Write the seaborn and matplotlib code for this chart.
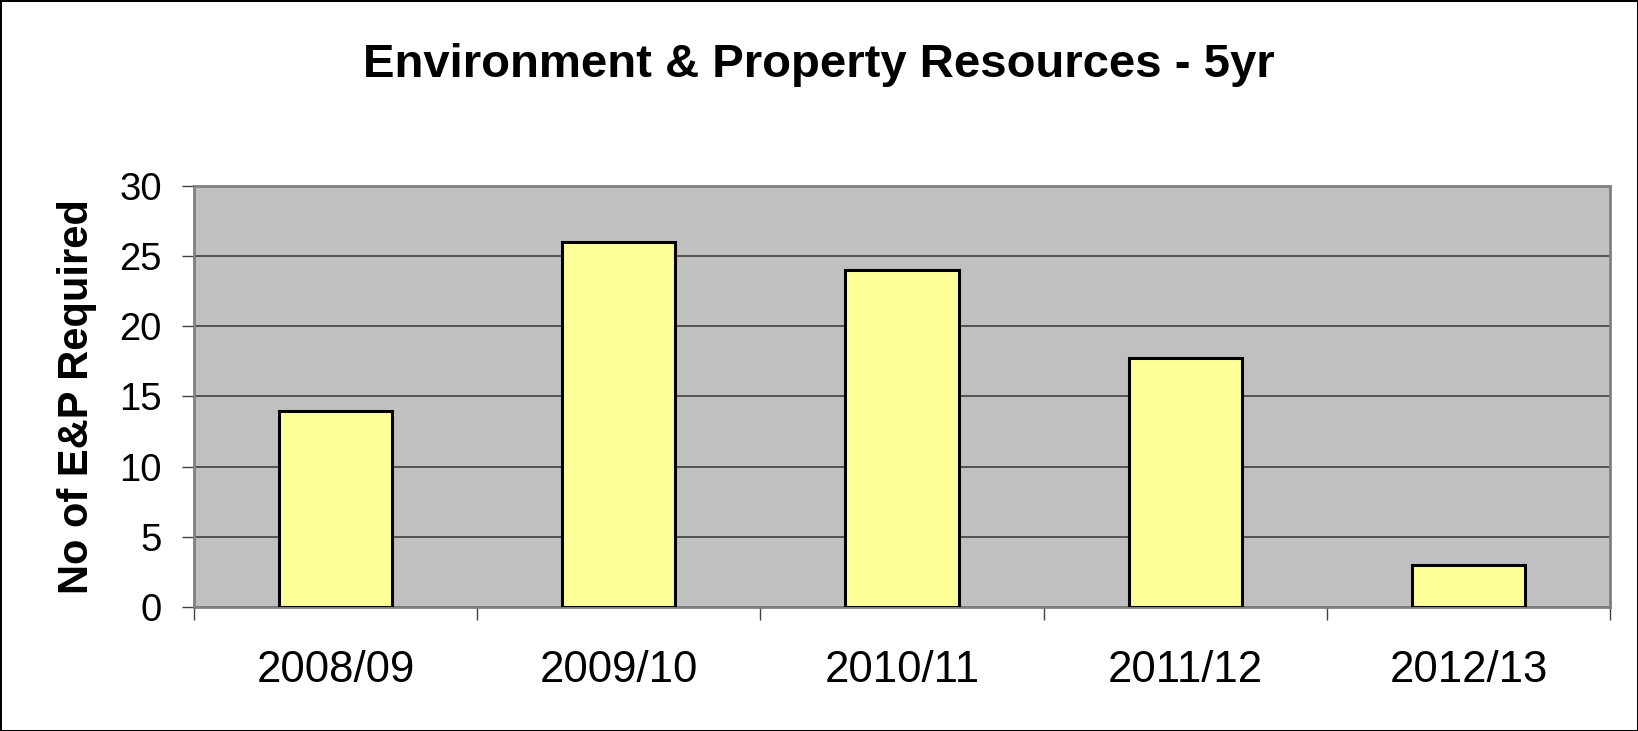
import matplotlib
matplotlib.use("Agg")
import matplotlib.pyplot as plt
import pandas as pd
import seaborn as sns

# chart data
years = ["2008/09", "2009/10", "2010/11", "2011/12", "2012/13"]
ep_required = [14, 26, 24, 17.75, 3]
y_ticks = [0, 5, 10, 15, 20, 25, 30]

df = pd.DataFrame({"year": years, "count": ep_required})

sns.set_style("white")
plt.rcParams["font.family"] = ["Liberation Sans", "DejaVu Sans"]
plt.rcParams["text.color"] = "black"
plt.rcParams["axes.labelcolor"] = "black"
plt.rcParams["xtick.color"] = "black"
plt.rcParams["ytick.color"] = "black"

fig = plt.figure(figsize=(16.38, 7.31), dpi=100)
fig.patch.set_edgecolor("black")
fig.patch.set_linewidth(2)
ax = fig.add_axes([0.1184, 0.1696, 0.983 - 0.1184, 0.7456 - 0.1696])
ax.set_facecolor("#C0C0C0")

sns.barplot(data=df, x="year", y="count", color="#FFFF99", saturation=1,
            edgecolor="black", linewidth=2.2, width=0.4, ax=ax, zorder=3)

ax.set_ylim(0, 30)
ax.set_xlim(-0.5, len(years) - 0.5)
ax.set_yticks(y_ticks)
ax.yaxis.grid(True, color="#404040", linewidth=1.2, zorder=0)
ax.set_axisbelow(True)

# category boundary ticks on x, labels centred without tick marks
ax.set_xticks([i - 0.5 for i in range(len(years) + 1)], minor=True)
ax.tick_params(axis="x", which="minor", length=9, width=1, color="#404040",
               direction="out", bottom=True)
ax.tick_params(axis="x", which="major", length=0, pad=31, labelsize=31.5)
ax.tick_params(axis="y", which="major", length=9, width=1, color="#404040",
               direction="out", left=True, pad=14, labelsize=27.5)

for side in ["left", "right", "top", "bottom"]:
    ax.spines[side].set_visible(True)
    ax.spines[side].set_color("#808080")
    ax.spines[side].set_linewidth(2)

ax.set_xlabel("")
ax.set_ylabel("No of E&P Required", fontsize=30, fontweight="bold", labelpad=16)
fig.text(0.5, 0.911, "Environment & Property Resources - 5yr", fontsize=34,
         fontweight="bold", ha="center", va="center")

fig.savefig("out.png", dpi=100)
